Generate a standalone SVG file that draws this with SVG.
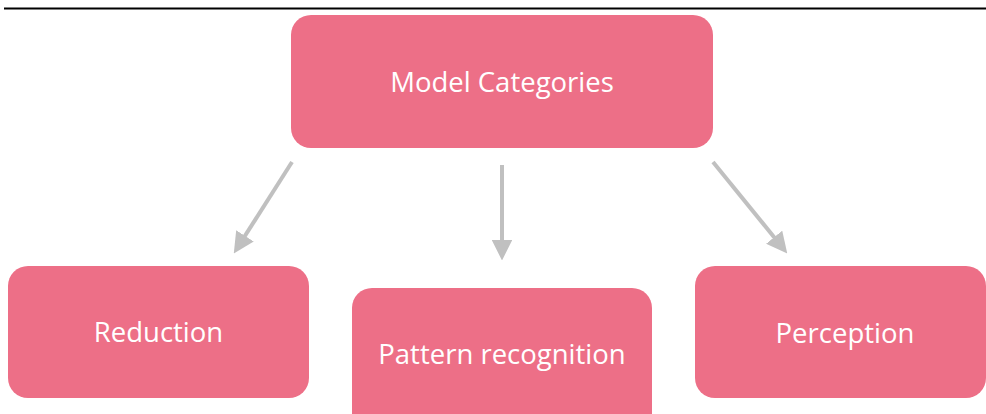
<svg xmlns="http://www.w3.org/2000/svg" width="986" height="414" viewBox="0 0 986 414">
<style>
.node rect{fill:#ED6F87;}
.node text{fill:#FFFFFF;font-family:"Open Sans","Noto Sans",sans-serif;font-size:27.5px;text-anchor:middle;}
.conn line{stroke:#C0C0C0;stroke-width:4;}
</style>
<defs>
<marker id="ah" viewBox="0 0 10 10" refX="4" refY="5" markerWidth="5.2" markerHeight="5.2" markerUnits="strokeWidth" orient="auto">
<path d="M0,0 L10,5 L0,10 z" fill="#C0C0C0"/>
</marker>
</defs>
<line x1="4" y1="8.5" x2="986" y2="8.5" stroke="#000" stroke-width="2"/>
<g class="conn">
<line x1="292" y1="162" x2="240.5" y2="242.9" marker-end="url(#ah)"/>
<line x1="502" y1="165" x2="502" y2="248" marker-end="url(#ah)"/>
<line x1="713" y1="162" x2="779.4" y2="243.7" marker-end="url(#ah)"/>
</g>
<g id="model-categories" class="node">
<rect x="291" y="15" width="422" height="133" rx="20"/>
<text x="502" y="92">Model Categories</text>
</g>
<g id="reduction" class="node">
<rect x="8" y="266" width="301" height="132" rx="20"/>
<text x="158.5" y="342">Reduction</text>
</g>
<g id="pattern-recognition" class="node">
<rect x="352" y="288" width="300" height="146" rx="20"/>
<text x="502" y="364">Pattern recognition</text>
</g>
<g id="perception" class="node">
<rect x="695" y="266" width="291" height="132" rx="20"/>
<text x="845" y="343">Perception</text>
</g>
</svg>
